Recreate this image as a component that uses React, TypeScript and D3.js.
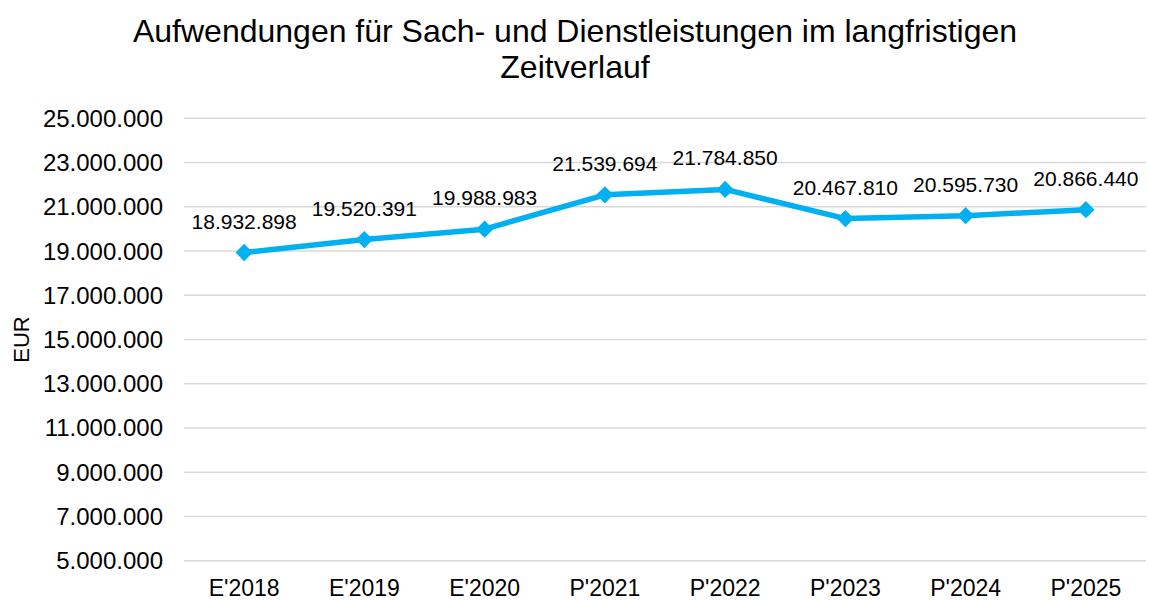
import { useEffect, useRef } from 'react';
import * as d3 from 'd3';

// Chart data
const categories = ["E'2018", "E'2019", "E'2020", "P'2021", "P'2022", "P'2023", "P'2024", "P'2025"];
const values = [18932898, 19520391, 19988983, 21539694, 21784850, 20467810, 20595730, 20866440];
const yTicks = [5000000, 7000000, 9000000, 11000000, 13000000, 15000000, 17000000, 19000000, 21000000, 23000000, 25000000];
const titleLines = ['Aufwendungen für Sach- und Dienstleistungen im langfristigen', 'Zeitverlauf'];
const yLabel = 'EUR';

const COLORS = {
    text: '#000000',
    grid: '#d9d9d9',
    line: '#00b0f0',
};

const FONT = '"Liberation Sans", Arial, sans-serif';
const fmt = (v: number) => d3.format(',')(v).replace(/,/g, '.');

export default function App() {
    const svgRef = useRef<SVGSVGElement>(null);
    const width = 1149;
    const height = 601;

    useEffect(() => {
        if (!svgRef.current) return;
        const svg = d3.select(svgRef.current);
        svg.selectAll('*').remove();

        const margin = { top: 118.3, right: 3, bottom: 40.3, left: 184 };
        const w = width - margin.left - margin.right;
        const h = height - margin.top - margin.bottom;
        const g = svg.append('g').attr('transform', `translate(${margin.left},${margin.top})`);

        const x = d3.scaleBand().domain(categories).range([0, w]);
        const y = d3.scaleLinear().domain([5000000, 25000000]).range([h, 0]);

        // Grid lines
        g.append('g')
            .selectAll('line')
            .data(yTicks)
            .join('line')
            .attr('x1', 0).attr('x2', w)
            .attr('y1', d => y(d)).attr('y2', d => y(d))
            .attr('stroke', COLORS.grid)
            .attr('stroke-width', 1.5);

        // Y tick labels
        g.append('g')
            .selectAll('text')
            .data(yTicks)
            .join('text')
            .attr('x', -21)
            .attr('y', d => y(d) + 8.5)
            .attr('text-anchor', 'end')
            .style('font-family', FONT)
            .style('font-size', '24px')
            .style('fill', COLORS.text)
            .text(d => fmt(d));

        // X tick labels
        g.append('g')
            .selectAll('text')
            .data(categories)
            .join('text')
            .attr('x', d => (x(d) ?? 0) + x.bandwidth() / 2)
            .attr('y', h + 35.5)
            .attr('text-anchor', 'middle')
            .style('font-family', FONT)
            .style('font-size', '23px')
            .style('fill', COLORS.text)
            .text(d => d);

        const cx = (i: number) => (x(categories[i]) ?? 0) + x.bandwidth() / 2;

        // Line
        const line = d3.line<number>()
            .x((_, i) => cx(i))
            .y(d => y(d));

        g.append('path')
            .datum(values)
            .attr('d', line)
            .attr('fill', 'none')
            .attr('stroke', COLORS.line)
            .attr('stroke-width', 5.5)
            .attr('stroke-linejoin', 'round');

        // Diamond markers
        const diamond = d3.symbol().type(d3.symbolDiamond2).size(190);
        g.selectAll('path.marker')
            .data(values)
            .join('path')
            .attr('class', 'marker')
            .attr('d', diamond)
            .attr('transform', (d, i) => `translate(${cx(i)},${y(d)})`)
            .attr('fill', COLORS.line);

        // Data labels
        g.selectAll('text.label')
            .data(values)
            .join('text')
            .attr('class', 'label')
            .attr('x', (_, i) => cx(i))
            .attr('y', d => y(d) - 24)
            .attr('text-anchor', 'middle')
            .style('font-family', FONT)
            .style('font-size', '21px')
            .style('fill', COLORS.text)
            .text(d => fmt(d));

        // Title
        svg.append('g')
            .selectAll('text')
            .data(titleLines)
            .join('text')
            .attr('x', 575)
            .attr('y', (_, i) => 42 + i * 36)
            .attr('text-anchor', 'middle')
            .style('font-family', FONT)
            .style('font-size', '32px')
            .style('fill', COLORS.text)
            .text(d => d);

        // Y axis title
        svg.append('text')
            .attr('transform', `translate(29,${margin.top + h / 2}) rotate(-90)`)
            .attr('text-anchor', 'middle')
            .style('font-family', FONT)
            .style('font-size', '22px')
            .style('fill', COLORS.text)
            .text(yLabel);
    }, []);

    return (
        <svg ref={svgRef} width={width} height={height}
            style={{ position: 'absolute', left: 0, top: 0, background: '#fff' }} />
    );
}
